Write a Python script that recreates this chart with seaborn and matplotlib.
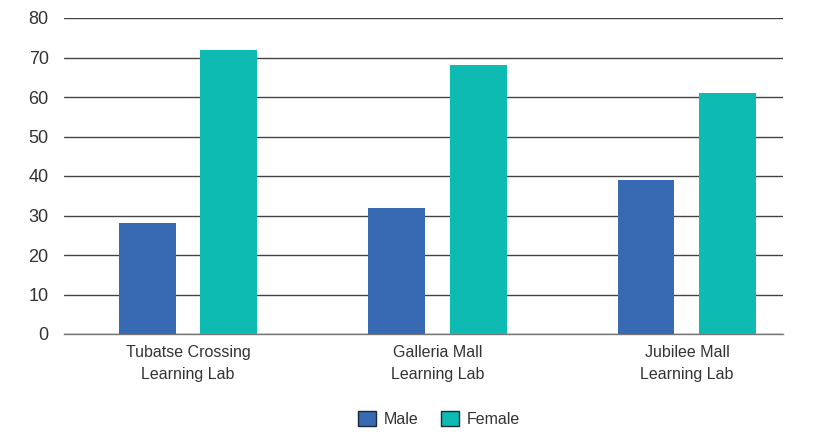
import matplotlib
matplotlib.use("Agg")
import matplotlib.pyplot as plt
import seaborn as sns
import pandas as pd
from matplotlib.patches import Patch

sites = ["Tubatse Crossing\nLearning Lab", "Galleria Mall\nLearning Lab", "Jubilee Mall\nLearning Lab"]
male = [28, 32, 39]
female = [72, 68, 61]
genders = ["Male", "Female"]
colors = {"Male": "#376AB3", "Female": "#0DBBB3"}
yticks = [0, 10, 20, 30, 40, 50, 60, 70, 80]

df = pd.DataFrame({
    "site": sites * 2,
    "gender": ["Male"] * len(sites) + ["Female"] * len(sites),
    "count": male + female,
})

sns.set_theme(style="white")
plt.rcParams["font.family"] = ["Liberation Sans", "DejaVu Sans"]

fig = plt.figure(figsize=(8.23, 4.32), dpi=100)
ax = fig.add_axes([64 / 823, 1 - 334 / 432, (783 - 64) / 823, (334 - 18) / 432])

sns.barplot(data=df, x="site", y="count", hue="gender", hue_order=genders,
            palette=colors, width=0.656, gap=0.305, saturation=1,
            linewidth=0, legend=False, ax=ax, zorder=3)

ax.set_ylim(0, 80)
ax.set_xlim(-0.497, 2.385)
ax.set_yticks(yticks)
ax.yaxis.grid(True, color="#444444", linewidth=1.0, zorder=0)
ax.xaxis.grid(False)
for s in ["left", "right", "top"]:
    ax.spines[s].set_visible(False)
ax.spines["bottom"].set_color("#777777")
ax.spines["bottom"].set_linewidth(1.0)
ax.set_xlabel("")
ax.set_ylabel("")
ax.tick_params(axis="y", length=0, pad=11, labelsize=13, labelcolor="#333333")
ax.tick_params(axis="x", length=0, pad=8, labelsize=11.5, labelcolor="#333333")
for lbl in ax.get_xticklabels():
    lbl.set_linespacing(1.55)

handles = [Patch(facecolor=colors[g], edgecolor="#1a2a3a", linewidth=1.0, label=g) for g in genders]
fig.legend(handles=handles, loc="center", bbox_to_anchor=(439 / 823, 1 - 419 / 432),
           ncol=2, frameon=False, fontsize=11.5, handlelength=1.1, handleheight=1.1,
           handletextpad=0.5, columnspacing=1.4, labelcolor="#333333")

fig.savefig("out.png", dpi=100)
